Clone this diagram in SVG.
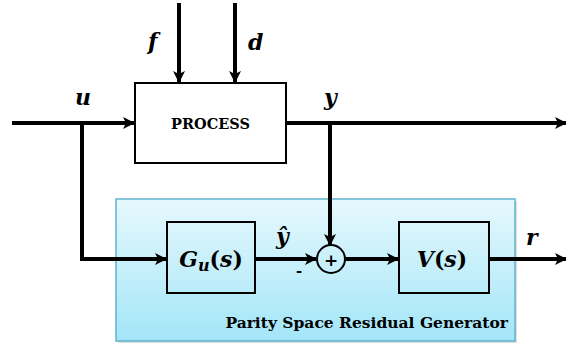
<svg xmlns="http://www.w3.org/2000/svg" width="566" height="347" viewBox="0 0 566 347">
  <defs>
    <linearGradient id="panelFill" x1="0" y1="0" x2="0" y2="1">
      <stop offset="0" stop-color="#e6f8fd"/>
      <stop offset="1" stop-color="#a3e6f8"/>
    </linearGradient>
    <marker id="arrow" viewBox="0 0 12 12" refX="11" refY="6" markerWidth="12" markerHeight="12" markerUnits="userSpaceOnUse" orient="auto">
      <path d="M0,0 L12,6 L0,12 L3,6 Z" fill="#000"/>
    </marker>
  </defs>
  <style>
    .wire { fill: none; stroke: #000; stroke-width: 4; }
    .block { fill: none; stroke: #000; stroke-width: 2; }
    .math { font-family: "DejaVu Serif", "Liberation Serif", serif; font-weight: bold; font-style: italic; font-size: 22px; fill: #000; }
    .label { font-family: "DejaVu Serif", "Liberation Serif", serif; font-weight: bold; fill: #000; }
  </style>

  <!-- residual generator panel -->
  <g id="panel">
    <rect x="118" y="201" width="399" height="142" fill="#c8c8c8" opacity="0.6"/>
    <rect x="116" y="199" width="399" height="142" fill="url(#panelFill)" stroke="#5fb4cc" stroke-width="1.5"/>
    <text class="label" x="508" y="328" font-size="15.5" text-anchor="end">Parity Space Residual Generator</text>
  </g>

  <!-- connectors -->
  <g id="connectors">
    <line class="wire" x1="12" y1="123" x2="134" y2="123" marker-end="url(#arrow)"/>
    <polyline class="wire" points="82,123 82,259 166,259" marker-end="url(#arrow)"/>
    <line class="wire" x1="179" y1="3" x2="179" y2="82" marker-end="url(#arrow)"/>
    <line class="wire" x1="235" y1="3" x2="235" y2="82" marker-end="url(#arrow)"/>
    <line class="wire" x1="286" y1="123" x2="566" y2="123" marker-end="url(#arrow)"/>
    <line class="wire" x1="330" y1="123" x2="330" y2="245" marker-end="url(#arrow)"/>
    <line class="wire" x1="255" y1="259" x2="316" y2="259" marker-end="url(#arrow)"/>
    <line class="wire" x1="345" y1="259" x2="398" y2="259" marker-end="url(#arrow)"/>
    <line class="wire" x1="489" y1="259" x2="566" y2="259" marker-end="url(#arrow)"/>
  </g>

  <!-- signal labels -->
  <g id="signals">
    <text class="math" x="148" y="49">f</text>
    <text class="math" x="248" y="50">d</text>
    <text class="math" x="75" y="105">u</text>
    <text class="math" x="324" y="105">y</text>
    <text class="math" x="276" y="244">ŷ</text>
    <text class="label" x="296" y="276" font-size="15">-</text>
    <text class="math" x="526" y="245">r</text>
  </g>

  <g id="process">
    <rect class="block" x="135" y="83" width="151" height="80" fill="#fff"/>
    <text class="label" x="210.5" y="129" font-size="14.5" text-anchor="middle">PROCESS</text>
  </g>

  <g id="gu">
    <rect class="block" x="167" y="222" width="88" height="71"/>
    <text class="math" x="211" y="267" font-size="23" text-anchor="middle">G<tspan font-size="16" dy="4">u</tspan><tspan dy="-4" font-style="normal">(</tspan>s<tspan font-style="normal">)</tspan></text>
  </g>

  <g id="sum">
    <circle cx="331" cy="259" r="14" fill="none" stroke="#000" stroke-width="2"/>
    <text class="label" x="331" y="265.5" font-size="17" text-anchor="middle">+</text>
  </g>

  <g id="v">
    <rect class="block" x="399" y="222" width="90" height="71"/>
    <text class="math" x="442" y="267" font-size="24" text-anchor="middle">V<tspan font-style="normal">(</tspan>s<tspan font-style="normal">)</tspan></text>
  </g>
</svg>
